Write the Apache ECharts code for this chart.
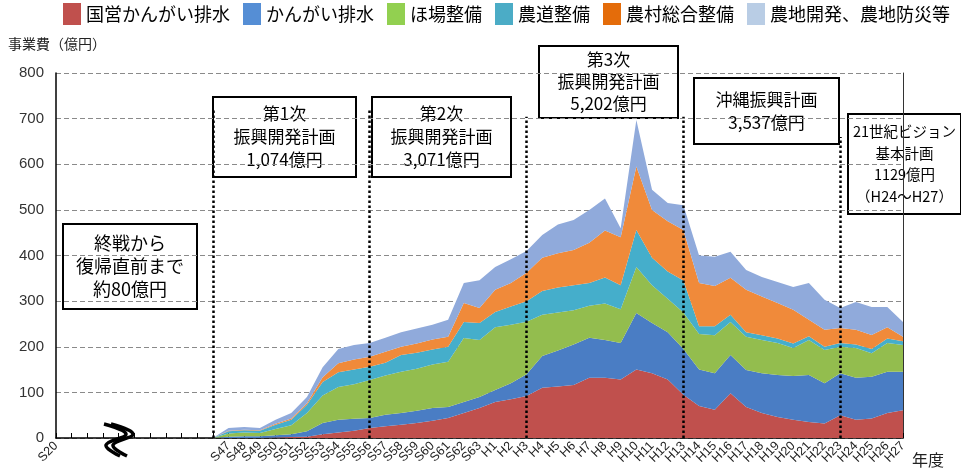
<!DOCTYPE html>
<html><head><meta charset="utf-8">
<script src="https://cdn.jsdelivr.net/npm/echarts@6/dist/echarts.min.js"></script>
<style>html,body{margin:0;padding:0;background:#fff}#c{width:961px;height:476px}</style>
</head><body><div id="c"></div>
<script>
// ---- data ----
const leadLabels = ['S20','','','','','','','','','',''];
const years = ['S47','S48','S49','S50','S51','S52','S53','S54','S55','S56','S57','S58','S59','S60','S61','S62','S63',
  'H1','H2','H3','H4','H5','H6','H7','H8','H9','H10','H11','H12','H13','H14','H15','H16','H17','H18','H19','H20','H21','H22','H23','H24','H25','H26','H27'];
const seriesNames = ['国営かんがい排水','かんがい排水','ほ場整備','農道整備','農村総合整備','農地開発、農地防災等'];
const kokueiKangai = [0,0,0,1,2,3,8,12,16,22,26,29,33,38,44,55,66,
  79,85,92,110,113,116,132,132,128,150,142,128,95,70,62,98,68,55,46,40,35,32,50,40,43,55,61];
const kangai = [3,4,4,5,6,12,25,28,26,22,25,26,27,28,24,24,24,
  26,35,48,70,79,89,88,83,80,124,110,104,100,80,80,84,81,87,92,96,103,88,92,92,91,90,84];
const hojo = [7,8,7,14,20,40,60,72,76,83,86,90,92,95,99,140,125,
  138,128,115,90,83,75,70,80,74,101,83,73,80,78,83,72,73,73,70,61,77,73,58,65,52,63,59];
const nodo = [5,5,5,9,12,18,30,32,32,29,28,37,35,33,33,35,37,
  33,40,45,52,55,55,50,57,53,81,60,60,70,17,20,16,10,10,10,10,8,7,8,8,9,10,8];
const noson = [1,1,1,2,3,3,10,20,22,22,24,18,20,22,22,42,33,
  49,52,62,73,75,77,88,103,105,139,105,110,111,95,88,81,93,85,78,74,36,37,33,32,31,25,10];
const nochi = [6,6,5,9,12,14,22,31,32,30,31,32,33,32,37,44,61,
  50,52,48,50,63,66,72,70,20,102,44,40,54,60,64,57,43,43,46,50,81,66,44,61,61,44,32];
const yTicks = [0,100,200,300,400,500,600,700,800];
// period boundaries (category index) and line heights
const periodLineIdx = [10,20,30,40,50];
const periodLineTop = [720,720,704,704,660];

// ---- styles ----
const areaColors = ['#C0504D','#4A7DC4','#93BD4E','#45AECB','#F08A3A','#90AADB'];
const legendColors = ['#C0504D','#558ED5','#92D050','#4BACC6','#E46C0A','#B9CDE5'];
const FONT = "'Liberation Sans','Noto Sans CJK JP',sans-serif";
const JFONT = "'Noto Sans CJK JP','Liberation Sans',sans-serif";

const categories = leadLabels.concat(years);
function pad(arr){ const out=[]; for(let i=0;i<10;i++) out.push(null); out.push(0); return out.concat(arr); }
const allData = [kokueiKangai,kangai,hojo,nodo,noson,nochi];

const series = seriesNames.map((n,i)=>({
  name:n, type:'line', stack:'total', data: pad(allData[i]), symbol:'none', smooth:false,
  lineStyle:{width:0}, areaStyle:{color:areaColors[i],opacity:1}, itemStyle:{color:areaColors[i]},
  emphasis:{disabled:true}, silent:true, z:2
}));
series[5].markLine = {
  silent:true, symbol:'none', label:{show:false},
  lineStyle:{type:'dotted', color:'#000', width:2.5},
  data: periodLineIdx.map((ix,k)=>[{coord:[ix,0]},{coord:[ix,periodLineTop[k]]}])
};

function box(x,y,w,h,text,fs,lh){
  return {type:'group', left:x, top:y, z:100, children:[
    {type:'rect', shape:{x:0,y:0,width:w,height:h}, style:{fill:'#fff',stroke:'#000',lineWidth:2}},
    {type:'text', x:w/2, y:h/2, style:{text:text, fill:'#000', font:fs+'px '+JFONT, align:'center', verticalAlign:'middle', lineHeight:lh}}
  ]};
}

const option = {
  animation:false,
  backgroundColor:'#fff',
  legend:{
    top:3, left:63, padding:0, itemWidth:18, itemHeight:22, itemGap:13,
    textStyle:{fontSize:18, color:'#000', fontFamily:JFONT},
    data: seriesNames.map((n,i)=>({name:n, icon:'rect', itemStyle:{color:legendColors[i]}}))
  },
  grid:{left:56, right:58, top:73, bottom:38, containLabel:false},
  xAxis:{
    type:'category', data:categories, boundaryGap:false,
    axisLine:{lineStyle:{color:'#000',width:1.5}},
    axisTick:{inside:true, length:5, interval:0, lineStyle:{color:'#000'}},
    axisLabel:{rotate:45, interval:0, fontSize:12.5, color:'#222', fontFamily:FONT, margin:6},
    splitLine:{show:false}
  },
  yAxis:[{
    type:'value', min:yTicks[0], max:yTicks[yTicks.length-1], interval:100,
    axisLine:{show:true, lineStyle:{color:'#000',width:1.5}},
    axisTick:{show:false},
    axisLabel:{fontSize:15, color:'#333', fontFamily:FONT, margin:12},
    splitLine:{show:true, lineStyle:{type:[5,3], color:'#8a8a8a', width:1.2}}
  },{
    type:'value', min:yTicks[0], max:yTicks[yTicks.length-1], interval:100, position:'right',
    axisLine:{show:true, lineStyle:{color:'#333',width:1}}, axisTick:{show:false}, axisLabel:{show:false}, splitLine:{show:false}
  }],
  series:series,
  graphic:[
    {type:'text', left:8, top:37, style:{text:'事業費（億円）', font:'14px '+JFONT, fill:'#222'}},
    {type:'text', left:912, top:452, style:{text:'年度', font:'16px '+JFONT, fill:'#222'}},
    {type:'polyline', z:50, shape:{points:[[104,424],[126,434],[106,445],[120,456]], smooth:0.4}, style:{stroke:'#000', lineWidth:3.5, fill:null}},
    {type:'polyline', z:50, shape:{points:[[111,424],[133,434],[113,445],[127,456]], smooth:0.4}, style:{stroke:'#000', lineWidth:3.5, fill:null}},
    box(62,223,134,85,'終戦から\n復帰直前まで\n約80億円',18,23),
    box(212,96,143,80,'第1次\n振興開発計画\n1,074億円',17,23),
    box(371,96,139,80,'第2次\n振興開発計画\n3,071億円',17,23),
    box(538,45,139,72,'第3次\n振興開発計画\n5,202億円',17,22),
    box(693,77,145,66,'沖縄振興計画\n3,537億円',17,23),
    box(847,113,113,100,'21世紀ビジョン\n基本計画\n1129億円\n（H24〜H27）',14.5,21.5)
  ]
};
echarts.init(document.getElementById('c'),null,{renderer:'canvas'}).setOption(option);
</script></body></html>
